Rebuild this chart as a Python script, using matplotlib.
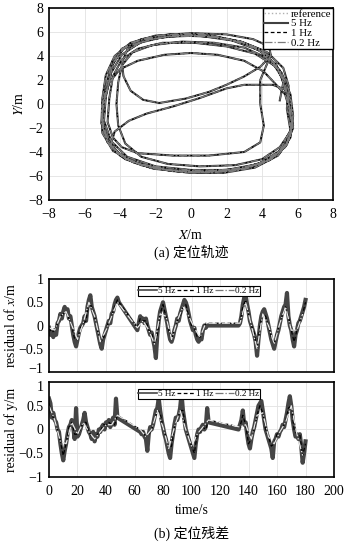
import numpy as np
import matplotlib
matplotlib.use('Agg')
import matplotlib.pyplot as plt
from matplotlib.transforms import ScaledTranslation

plt.rcParams['font.family'] = ['Liberation Serif', 'Noto Sans CJK SC']
plt.rcParams['mathtext.fontset'] = 'stix'
plt.rcParams['axes.unicode_minus'] = True

# trajectory (m), laps joined end to end
traj_x = [5.0, 5.2, 4.8, 3.8, 2.3, 0.4, -1.5, -2.9, -3.9, -4.5, -4.8, -4.9, -4.5, -3.6, -2.0, 0.0, 2.0, 3.8, 5.0, 5.6,
          5.4, 5.5, 5.2, 4.3, 2.8, 0.8, -1.2, -2.8, -3.9, -4.4, -4.7, -5.0, -5.0, -4.4, -3.2, -1.4, 0.6, 2.6, 4.2, 5.3, 5.75,
          5.5, 5.3, 4.8, 4.1, 3.0, 1.5, 0.0, -1.5, -3.0, -4.0, -4.6, -5.0, -5.05, -4.7, -3.8, -2.3, -0.3, 1.8, 3.6, 4.9, 5.6,
          5.75, 5.6, 5.1, 4.2, 3.0, 1.3, -0.5, -2.2, -3.3, -3.9, -4.1, -4.2, -4.1, -3.7, -2.8, -1.3, 0.5, 2.5, 4.0, 5.0, 5.6,
          5.6, 5.3, 5.0, 4.2, 2.8, 0.9, -1.0, -2.6, -3.6, -3.9, -3.8, -3.4, -2.7, -1.8, -0.3, 1.0, 2.0, 3.0, 3.9, 4.5,
          4.4, 3.5, 2.0, 0.0, -2.0, -3.4, -4.3, -4.8, -5.0, -5.0, -4.6, -3.7, -2.1, -0.1, 2.0, 3.8, 5.0, 5.6,
          5.7, 5.6, 5.3, 4.6, 3.0, 2.0, 0.5, -1.0, -2.5, -3.5, -4.3, -4.5, -4.0, -2.8, -1.0, 1.0, 3.0, 4.5, 5.4, 5.7,
          5.5, 5.3, 4.7, 3.6, 2.0, 0.2, -1.6, -3.0, -3.9, -4.4, -4.6, -4.7, -4.4, -3.9, -3.0, -1.0, 1.0, 3.0, 3.9, 4.1,
          3.9, 3.9, 4.3, 4.0, 3.0, 1.4, -0.6, -2.5, -3.8, -4.5, -4.8, -5.0, -4.9, -4.3, -3.1, -1.2, 0.8, 2.8, 4.4, 5.4,
          5.75, 5.5]
traj_y = [0.3, 1.8, 3.3, 4.5, 5.3, 5.7, 5.6, 5.1, 4.1, 2.6, 0.6, -1.4, -3.1, -4.4, -5.2, -5.5, -5.5, -5.0, -3.9, -2.2,
          -0.4, 1.5, 3.0, 4.3, 5.2, 5.8, 5.8, 5.4, 4.6, 3.3, 1.4, -0.6, -2.4, -3.9, -4.9, -5.5, -5.7, -5.5, -4.8, -3.6, -2.0,
          -0.2, 0.8, 1.6, 2.7, 3.6, 4.1, 4.25, 4.1, 3.6, 2.9, 1.8, 0.0, -1.6, -3.2, -4.5, -5.3, -5.7, -5.75, -5.3, -4.3, -2.8,
          -1.0, 0.8, 2.6, 3.9, 4.7, 5.1, 5.2, 4.9, 4.3, 3.2, 1.8, 0.0, -1.8, -3.3, -4.4, -5.0, -5.2, -5.1, -4.6, -3.6, -2.3,
          -0.5, 1.2, 2.8, 4.2, 5.2, 5.7, 5.7, 5.3, 4.5, 3.4, 2.3, 1.1, 0.35, 0.08, 0.45, 1.0, 1.6, 2.3, 3.1, 4.0,
          4.8, 5.4, 5.8, 5.9, 5.7, 5.1, 4.0, 2.4, 0.4, -1.5, -3.3, -4.6, -5.4, -5.7, -5.6, -5.1, -4.1, -2.6,
          -1.0, 0.3, 1.2, 1.6, 1.6, 1.3, 0.5, -0.2, -0.8, -1.4, -2.3, -3.3, -4.3, -5.1, -5.6, -5.7, -5.4, -4.6, -3.3, -1.8,
          0.0, 1.8, 3.2, 4.2, 4.8, 5.1, 5.1, 4.6, 3.7, 2.3, 0.5, -1.5, -2.8, -3.6, -4.1, -4.3, -4.3, -4.0, -3.2, -1.8,
          0.0, 2.0, 3.4, 4.5, 5.1, 5.6, 5.7, 5.4, 4.6, 3.2, 1.4, -0.6, -2.4, -3.9, -4.9, -5.5, -5.6, -5.4, -4.7, -3.4,
          -1.8, 0.0]

# residual of x (m)
rx5_t = np.r_[np.arange(0, 50), np.arange(62, 112), np.arange(133, 181)]
rx5 = [-0.05, -0.2, -0.15, -0.25, -0.1, -0.2, 0.05, 0.1, 0.25, 0.15, 0.3, 0.4, 0.3, 0.35, 0.15, 0.2, 0.0, -0.2, -0.35, -0.45,
       -0.3, -0.15, -0.05, 0.0, 0.05, 0.2, 0.1, 0.4, 0.55, 0.65, 0.4, 0.3, 0.2, 0.05, -0.1, -0.25, -0.4, -0.5, -0.3, -0.2,
       -0.1, 0.0, 0.1, 0.05, 0.25, 0.3, 0.45, 0.55, 0.6, 0.5,
       -0.1, 0.05, 0.2, 0.1, 0.15, 0.05, 0.15, 0.0, -0.1, -0.2, -0.15, -0.3, -0.45, -0.7, -0.2, 0.1, 0.3, 0.4, 0.5, 0.35,
       0.2, 0.05, -0.15, -0.3, -0.35, -0.25, -0.1, 0.0, 0.15, 0.1, 0.25, 0.35, 0.45, 0.55, 0.5, 0.4, 0.25, 0.1, 0.0, -0.1,
       -0.05, -0.2, -0.3, -0.35, -0.25, -0.3, -0.1, 0.0, -0.05, 0.0,
       0.0, 0.05, 0.2, 0.45, 0.6, 0.65, 0.45, 0.3, 0.1, 0.0, -0.1, -0.2, -0.35, -0.65, -0.3, 0.0, 0.2, 0.3, 0.35, 0.25,
       0.15, 0.0, -0.15, -0.3, -0.4, -0.5, -0.35, -0.2, -0.1, 0.05, 0.2, 0.3, 0.4, 0.45, 0.7, 0.2, 0.0, -0.1, -0.3, -0.45,
       -0.2, -0.1, 0.05, 0.1, 0.2, 0.3, 0.4, 0.55]
rx1_t = np.r_[np.arange(0, 50, 2), np.arange(62, 112, 2), np.arange(134, 182, 2)]
rx1 = [-0.05, -0.15, -0.1, 0.05, 0.2, 0.25, 0.3, 0.15, 0.0, -0.3, -0.3, -0.05, 0.05, 0.1, 0.5, 0.4, 0.2, -0.1, -0.35, -0.3,
       -0.1, 0.1, 0.2, 0.4, 0.55,
       -0.05, 0.15, 0.1, 0.1, -0.1, -0.15, -0.4, -0.2, 0.25, 0.45, 0.2, -0.1, -0.3, -0.1, 0.1, 0.2, 0.4, 0.45, 0.2, 0.0,
       -0.05, -0.25, -0.25, -0.1, 0.05,
       0.05, 0.4, 0.55, 0.25, 0.0, -0.15, -0.5, 0.0, 0.25, 0.2, 0.0, -0.25, -0.4, -0.15, 0.05, 0.25, 0.4, 0.2, -0.1, -0.35,
       -0.1, 0.1, 0.25, 0.5]
rx02_t = np.r_[np.arange(0, 52, 4), np.arange(62, 114, 4), np.arange(134, 182, 4)]
rx02 = [-0.05, -0.1, 0.2, 0.3, 0.0, -0.3, 0.05, 0.5, 0.2, -0.35, -0.1, 0.2, 0.5,
        -0.05, 0.1, -0.1, -0.4, 0.25, 0.2, -0.3, 0.1, 0.4, 0.2, -0.05, -0.25, 0.05,
        0.05, 0.5, 0.0, -0.5, 0.25, 0.0, -0.4, 0.05, 0.4, -0.1, -0.1, 0.25]

# residual of y (m)
ry5_t = np.r_[np.arange(0, 49), np.arange(64, 113), np.arange(133, 181)]
ry5 = [0.65, 0.55, 0.25, 0.35, 0.2, 0.15, 0.0, -0.05, -0.3, -0.5, -0.65, -0.45, -0.3, -0.1, 0.05, 0.1, 0.2, 0.05, -0.2, 0.45,
       -0.15, -0.1, 0.0, 0.1, 0.2, 0.35, 0.15, 0.05, -0.05, -0.1, -0.2, -0.05, -0.25, -0.1, -0.15, 0.0, -0.05, 0.05, 0.1, 0.0,
       0.15, 0.1, 0.2, 0.05, 0.15, 0.25, 0.1, 0.65, 0.25,
       -0.05, -0.1, -0.05, -0.15, -0.2, -0.45, -0.1, 0.05, 0.0, 0.1, 0.25, 0.4, 0.45, 0.65, 0.4, 0.2, 0.05, -0.1, -0.2, -0.35,
       -0.5, -0.6, -0.3, -0.1, 0.1, 0.25, 0.2, 0.3, 0.45, 0.75, 0.4, 0.2, 0.0, -0.1, -0.2, -0.3, -0.4, -0.5, -0.6, -0.3,
       -0.1, 0.0, -0.05, 0.05, 0.1, 0.0, 0.05, 0.45, 0.15,
       0.0, 0.1, 0.2, 0.4, 0.1, 0.15, -0.1, -0.3, -0.4, -0.2, -0.05, 0.05, 0.2, 0.35, 0.5, 0.55, 0.6, 0.4, 0.2, 0.0,
       -0.1, -0.2, -0.3, -0.4, -0.6, -0.25, -0.2, -0.1, -0.15, -0.05, 0.0, 0.1, 0.05, 0.2, 0.35, 0.55, 0.7, 0.5, 0.2, 0.0,
       -0.15, -0.1, -0.2, -0.1, -0.35, -0.7, -0.5, -0.25]
ry1_t = np.r_[np.arange(0, 50, 2), np.arange(64, 114, 2), np.arange(134, 182, 2)]
ry1 = [0.55, 0.3, 0.2, 0.0, -0.25, -0.55, -0.3, 0.05, 0.15, -0.1, -0.1, 0.0, 0.15, 0.15, -0.05, -0.15, -0.2, -0.1, -0.05, 0.1,
       0.1, 0.15, 0.1, 0.1, 0.3,
       0.0, -0.05, -0.15, -0.1, 0.0, 0.2, 0.4, 0.35, 0.05, -0.15, -0.4, -0.35, 0.05, 0.2, 0.4, 0.4, 0.0, -0.15, -0.35, -0.5,
       -0.1, -0.05, 0.05, 0.0, 0.2,
       0.05, 0.3, 0.1, -0.3, -0.2, 0.0, 0.3, 0.5, 0.35, 0.0, -0.15, -0.35, -0.3, -0.1, -0.05, 0.05, 0.15, 0.45, 0.5, 0.0,
       -0.1, -0.1, -0.55, -0.3]
ry02_t = np.r_[np.arange(0, 52, 4), np.arange(64, 116, 4), np.arange(134, 182, 4)]
ry02 = [0.5, 0.2, -0.25, -0.3, 0.15, -0.1, 0.15, -0.05, -0.2, -0.05, 0.1, 0.1, 0.3,
        0.0, -0.15, 0.0, 0.4, 0.05, -0.4, 0.05, 0.4, 0.0, -0.35, -0.1, 0.05, 0.2,
        0.05, 0.1, -0.2, 0.3, 0.35, -0.15, -0.3, -0.05, 0.15, 0.5, -0.1, -0.55]

fig = plt.figure(figsize=(3.48, 5.44), dpi=100)
ax1 = fig.add_axes([0.1408, 0.6324, 0.8162, 0.3529])
ax2 = fig.add_axes([0.1408, 0.3162, 0.8190, 0.1709])
ax3 = fig.add_axes([0.1408, 0.1232, 0.8190, 0.1746])

grid_kw = dict(color='#e2e2e2', lw=0.6)
tick_fs = 10

# trajectory
ax1.plot(traj_x, traj_y, color='#b0b0b0', lw=1.0, ls=':', label='reference')
ax1.plot(traj_x, traj_y, color='#404040', lw=1.5, ls='-', label='5 Hz')
ax1.plot(traj_x, traj_y, color='black', lw=0.9, ls='--', dashes=(3, 2), label='1 Hz')
ax1.plot(traj_x, traj_y, color='#7a7a7a', lw=0.9, ls='-.', label='0.2 Hz')
ax1.set_xlim(-8, 8)
ax1.set_ylim(-8, 8)
ax1.set_xticks(np.arange(-8, 9, 2))
ax1.set_yticks(np.arange(-8, 9, 2))
ax1.grid(True, **grid_kw)
ax1.set_axisbelow(True)
ax1.set_xlabel('$X$/m', fontsize=10, labelpad=5)
ax1.set_ylabel('$Y$/m', fontsize=10, labelpad=2)
leg = ax1.legend(loc='upper right', fontsize=7.8, handlelength=2.2, handletextpad=0.3,
                 labelspacing=0.0, borderpad=0.12, borderaxespad=0.0, fancybox=False,
                 framealpha=1, edgecolor='black')
leg.get_frame().set_linewidth(1.0)

# residuals
for ax, t5, v5, t1, v1, t02, v02, lab in [
        (ax2, rx5_t, rx5, rx1_t, rx1, rx02_t, rx02, 'residual of $x$/m'),
        (ax3, ry5_t, ry5, ry1_t, ry1, ry02_t, ry02, 'residual of y/m')]:
    ax.plot(t5, v5, color='#454545', lw=3.0, label='5 Hz')
    ax.plot(t1, v1, color='black', lw=0.9, ls='--', dashes=(3, 2), label='1 Hz')
    ax.plot(t02, v02, color='#e8e8e8', lw=0.9, ls='-.', label='0.2 Hz')
    ax.set_xlim(0, 200)
    ax.set_ylim(-1, 1)
    ax.set_xticks(np.arange(0, 201, 20))
    ax.set_yticks([-1, -0.5, 0, 0.5, 1])
    ax.set_yticklabels(['\u22121', '\u22120.5', '0', '0.5', '1'])
    ax.grid(True, **grid_kw)
    ax.set_axisbelow(True)
    ax.set_ylabel(lab, fontsize=10, labelpad=0)
    hl = ax.legend(loc='upper center', bbox_to_anchor=(0.525, 0.975), ncol=3, fontsize=6.6,
                   handlelength=2.0, handletextpad=0.1, columnspacing=0.2, borderpad=0.1,
                   fancybox=False, framealpha=1, edgecolor='black')
    hl.get_frame().set_linewidth(0.8)
    hl.get_lines()[0].set_linewidth(1.2)
    hl.get_lines()[2].set_color('#777777')

ax2.tick_params(labelbottom=False)
ax3.set_xlabel('time/s', fontsize=10, labelpad=4)

for ax in (ax1, ax2, ax3):
    ax.tick_params(direction='in', length=0, labelsize=tick_fs)
    ax.tick_params(axis='x', pad=6)
    ax.tick_params(axis='y', pad=4)
    for s in ax.spines.values():
        s.set_linewidth(1.2)

# keep the -1 and 1 labels between the residual panels apart
ax2.get_yticklabels()[0].set_transform(
    ax2.get_yticklabels()[0].get_transform() + ScaledTranslation(0, 3 / 72, fig.dpi_scale_trans))
ax3.get_yticklabels()[-1].set_transform(
    ax3.get_yticklabels()[-1].get_transform() + ScaledTranslation(0, -3 / 72, fig.dpi_scale_trans))

fig.text(0.5494, 0.537, '(a) 定位轨迹', ha='center', va='center', fontsize=10)
fig.text(0.5494, 0.020, '(b) 定位残差', ha='center', va='center', fontsize=10)

fig.savefig('out.png', dpi=100)
